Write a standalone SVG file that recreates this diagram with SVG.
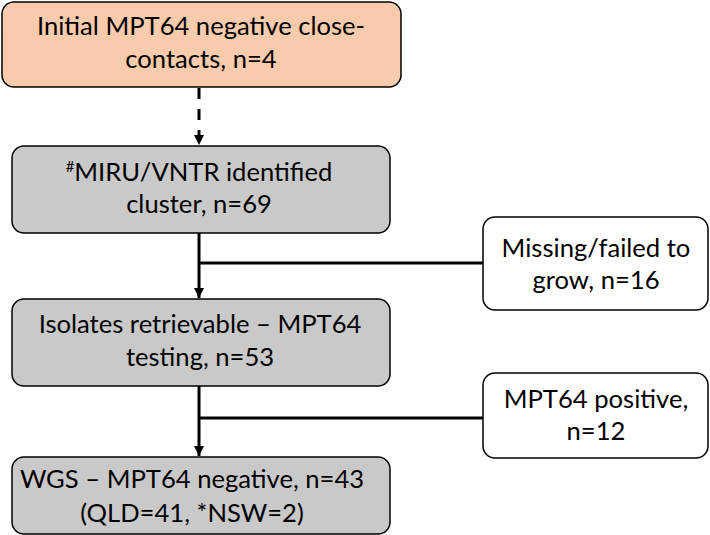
<svg xmlns="http://www.w3.org/2000/svg" width="710" height="535" viewBox="0 0 710 535">
<defs>
<marker id="ah" viewBox="0 0 10 10" refX="10" refY="5" markerWidth="10" markerHeight="10" markerUnits="userSpaceOnUse" orient="auto">
<path d="M0,0 L10,5 L0,10 z" fill="#000"/>
</marker>
</defs>
<style>
.box{stroke:#000;stroke-width:1.5}
.peach{fill:#F8CBAD}
.gray{fill:#C9C9C9}
.white{fill:#fff}
text{font-family:Lato,"Open Sans","Liberation Sans",sans-serif;font-size:25.6px;fill:#000;text-anchor:middle}
.ln{stroke:#000;stroke-width:3;fill:none}
</style>
<g id="connectors">
<path class="ln" d="M199,88 V145" stroke-dasharray="11,10" marker-end="url(#ah)"/>
<path class="ln" d="M199,233 V298" marker-end="url(#ah)"/>
<path class="ln" d="M199,263 H483"/>
<path class="ln" d="M199,386 V456" marker-end="url(#ah)"/>
<path class="ln" d="M199,418 H483"/>
</g>
<g id="n1">
<rect class="box peach" x="2" y="2" width="399" height="85" rx="12"/>
<text x="201" y="35">Initial MPT64 negative close-</text>
<text x="201" y="68">contacts, n=4</text>
</g>
<g id="n2">
<rect class="box gray" x="12" y="146" width="378" height="87" rx="12"/>
<text x="199" y="181"><tspan font-size="15" dy="-9">#</tspan><tspan dy="9">MIRU/VNTR identified</tspan></text>
<text x="199" y="213">cluster, n=69</text>
</g>
<g id="n3">
<rect class="box white" x="483" y="217" width="225" height="93" rx="12"/>
<text x="596" y="257">Missing/failed to</text>
<text x="596" y="289">grow, n=16</text>
</g>
<g id="n4">
<rect class="box gray" x="12" y="299" width="378" height="87" rx="12"/>
<text x="200" y="333">Isolates retrievable – MPT64</text>
<text x="200" y="366">testing, n=53</text>
</g>
<g id="n5">
<rect class="box white" x="483" y="373" width="225" height="85" rx="12"/>
<text x="596" y="408">MPT64 positive,</text>
<text x="596" y="440">n=12</text>
</g>
<g id="n6">
<rect class="box gray" x="12" y="457" width="378" height="77" rx="12"/>
<text x="192" y="488">WGS – MPT64 negative, n=43</text>
<text x="192" y="522">(QLD=41, *NSW=2)</text>
</g>
</svg>
